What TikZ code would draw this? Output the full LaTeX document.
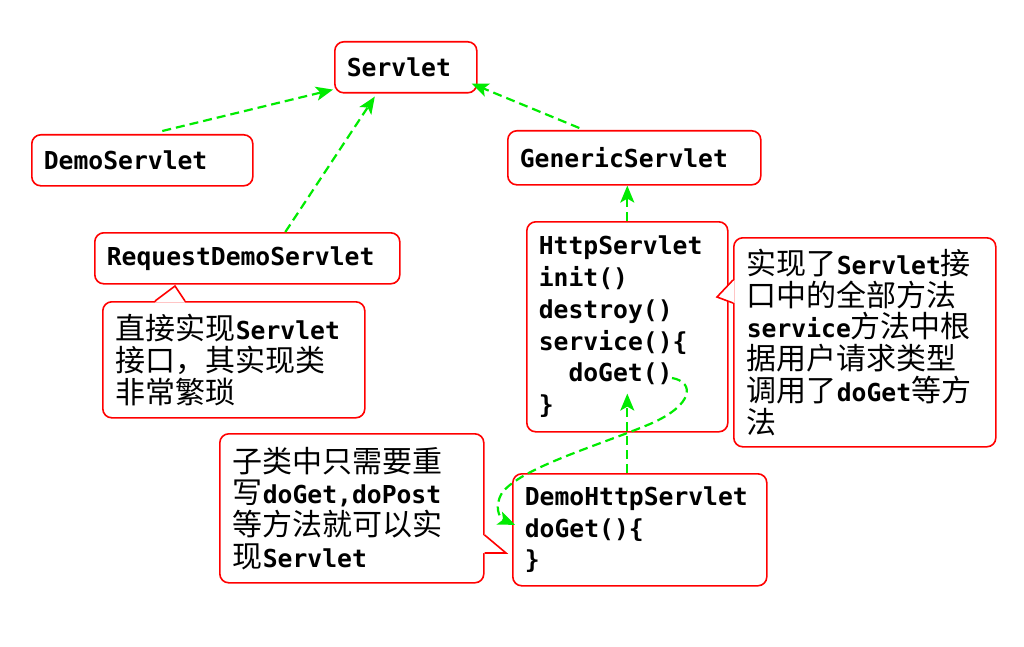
\documentclass[tikz,border=0pt]{standalone}
\usepackage{fontspec}
\setmonofont{DejaVu Sans Mono}
\newfontfamily\cjk{Noto Sans CJK SC}
\newcommand{\zh}[1]{{\cjk\mdseries\fontsize{30}{31.7}\selectfont #1}}
\usetikzlibrary{arrows.meta, positioning, calc}
\definecolor{boxred}{RGB}{255,0,0}
\definecolor{arrgreen}{RGB}{0,235,0}
\lineskiplimit=-100pt

\begin{document}
\begin{tikzpicture}[
    x=1pt, y=-1pt,
    font=\fontsize{24.7}{31.7}\selectfont\ttfamily\bfseries,
    classbox/.style={
        rectangle, draw=boxred, fill=white,
        rounded corners=9pt, anchor=north west,
        inner xsep=12pt, inner ysep=0pt,
        align=left, line width=1.6pt
    },
    notebox/.style={
        classbox, inner xsep=13pt, text width=236pt
    },
    inherit/.style={
        -{Stealth[length=17pt, width=14pt, inset=4pt]},
        draw=arrgreen, line width=2.2pt, dash pattern=on 9pt off 5pt
    },
    pointer/.style={draw=boxred, line width=1.6pt, line join=miter},
]
\useasboundingbox (0,0) rectangle (1024,647);

% Classes
\node[classbox, minimum height=51pt, text width=118pt] (servlet) at (334,41) {Servlet};
\node[classbox, minimum height=51pt, text width=197pt] (demo) at (31,134) {DemoServlet};
\node[classbox, minimum height=51pt, text width=281pt] (request) at (94,232) {RequestDemoServlet};
\node[classbox, minimum height=54pt, text width=229pt] (generic) at (507,130) {GenericServlet};
\node[classbox, minimum height=210pt, text width=177pt] (http) at (526,221)
    {HttpServlet\\init()\\destroy()\\service()\{\\\hspace*{29.7pt}doGet()\\\}};
\node[classbox, minimum height=112pt, text width=230pt] (demohttp) at (512,473)
    {DemoHttpServlet\\doGet()\{\\\}};

% Notes
\node[notebox, minimum height=116pt] (note1) at (102,301)
    {\zh{直接实现}Servlet\\\zh{接口，其实现类}\\\zh{非常繁琐}};
\node[notebox, minimum height=209pt] (note2) at (733,237)
    {\zh{实现了}Servlet\zh{接}\\\zh{口中的全部方法}\\service\zh{方法中根}\\\zh{据用户请求类型}\\\zh{调用了}doGet\zh{等方}\\\zh{法}};
\node[notebox, minimum height=149pt, text width=238pt] (note3) at (219,433)
    {\zh{子类中只需要重}\\\zh{写}doGet,doPost\\\zh{等方法就可以实}\\\zh{现}Servlet};

% Pointers
\coordinate (tip1) at (175,286);
\coordinate (tip2) at (717,297);
\coordinate (tip3) at (506,553);
\fill[white] ([xshift=53pt,yshift=-1.5pt]note1.north west) -- (tip1) -- ([xshift=83pt,yshift=-1.5pt]note1.north west) -- cycle;
\draw[pointer] ([xshift=53pt]note1.north west) -- (tip1) -- ([xshift=83pt]note1.north west);
\fill[white] ([xshift=1.5pt,yshift=-43pt]note2.north west) -- (tip2) -- ([xshift=1.5pt,yshift=-66pt]note2.north west) -- cycle;
\draw[pointer] ([yshift=-43pt]note2.north west) -- (tip2) -- ([yshift=-66pt]note2.north west);
\fill[white] ([xshift=-1.5pt,yshift=-102pt]note3.north east) -- (tip3) -- ([xshift=-1.5pt,yshift=-120pt]note3.north east) -- cycle;
\draw[pointer] ([yshift=-102pt]note3.north east) -- (tip3) -- ([yshift=-120pt]note3.north east);

% Arrows
\coordinate (doget) at (672,378);
\draw[inherit] ([xshift=20pt,yshift=3pt]demo.north) -- ([xshift=-1pt,yshift=4pt]servlet.south west);
\draw[inherit] ([xshift=38pt]request.north) -- ([xshift=-31pt,yshift=-3pt]servlet.south);
\draw[inherit] ([xshift=-55pt,yshift=2pt]generic.north) -- ([xshift=-6pt,yshift=10pt]servlet.south east);
\draw[inherit] (http.north) -- (http.north |- generic.south);
\draw[inherit] (http.north |- demohttp.north) -- ([yshift=39pt]http.south);
\draw[inherit] (doget) .. controls (695,382) and (694,405) .. (650,424)
    .. controls (600,445) and (520,468) .. (502,493)
    .. controls (494,506) and (499,518) .. ([xshift=3pt,yshift=5pt]demohttp.west);

\end{tikzpicture}
\end{document}
